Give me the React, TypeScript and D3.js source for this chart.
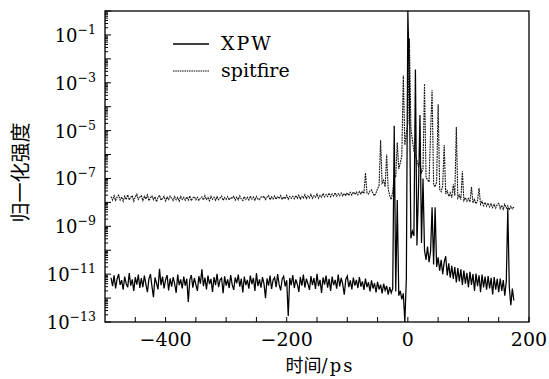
import React, { useEffect, useRef } from "react";
import * as d3 from "d3";

// sampling grid of both traces (ps)
const tStart = -490;
const tStep = 2.5;

// log10 of the normalized intensity, one value per sample
const spitfireLog10 = [
  -7.76, -7.9, -7.72, -7.92, -7.78, -7.7, -7.9, -7.77, -7.95, -7.74, -7.88, -7.68, -7.9, -7.79, -7.72, -7.95, -7.77, -7.66, -7.88, -7.78,
  -7.72, -7.92, -7.75, -7.86, -7.69, -7.93, -7.8, -7.73, -7.89, -7.76, -7.97, -7.79, -7.7, -7.91, -7.83, -7.75, -7.94, -7.78, -7.88, -7.74,
  -7.82, -7.92, -7.76, -7.89, -7.79, -7.95, -7.75, -7.88, -7.8, -7.91, -7.77, -7.9, -7.73, -7.93, -7.81, -7.76, -7.89, -7.79, -7.92, -7.82,
  -7.77, -7.9, -7.72, -7.88, -7.8, -7.93, -7.75, -7.87, -7.79, -7.91, -7.76, -7.89, -7.81, -7.74, -7.92, -7.8, -7.88, -7.76, -7.9, -7.79,
  -7.83, -7.75, -7.91, -7.78, -7.89, -7.73, -7.86, -7.92, -7.76, -7.88, -7.79, -7.9, -7.74, -7.87, -7.78, -7.91, -7.75, -7.86, -7.89, -7.77,
  -7.8, -7.74, -7.88, -7.78, -7.71, -7.89, -7.77, -7.86, -7.73, -7.87, -7.76, -7.84, -7.72, -7.88, -7.77, -7.85, -7.7, -7.87, -7.75, -7.83,
  -7.74, -7.85, -7.71, -7.83, -7.7, -7.86, -7.75, -7.82, -7.68, -7.84, -7.73, -7.81, -7.67, -7.83, -7.72, -7.79, -7.65, -7.82, -7.7, -7.78,
  -7.63, -7.77, -7.67, -7.75, -7.61, -7.76, -7.65, -7.73, -7.6, -7.74, -7.64, -7.72, -7.61, -7.73, -7.63, -7.71,
  -7.6, -7.71, -7.58, -7.69, -7.56, -7.67, -7.57, -7.68, -7.55, -7.65, -7.53, -7.63, -6.77, -7.61, -7.65, -7.53,
  -7.48, -7.63, -7.72, -7.6, -7.43, -7.3, -5.4, -7.2, -7.08, -7.35, -6.0, -7.42, -7.72, -7.88, -7.55, -6.9,
  -6.95, -5.5, -6.6, -6.35, -6.05, -2.7, -5.6, -5.1, -4.7, -1.15, -4.9, -5.4, -5.85, -6.0, -6.25, -6.5,
  -6.3, -6.75, -6.6, -3.05, -6.95, -7.05, -7.15, -5.05, -3.3, -7.25, -7.35, -7.15, -3.9, -7.45, -7.55, -7.3,
  -5.6, -7.65, -7.52, -7.75, -7.6, -7.8, -7.25, -7.72, -4.85, -7.82, -7.7, -7.88, -6.7, -7.92, -7.8, -7.95,
  -7.84, -7.98, -7.36, -8.02, -7.88, -8.06, -7.93, -7.4, -8.08, -7.96, -8.14, -8.0, -8.16, -8.03, -8.19, -8.06,
  -8.22, -8.08, -8.24, -8.1, -8.04, -8.26, -8.12, -8.29, -8.08, -8.24, -8.14, -8.31, -8.16, -8.27, -8.2
];

const xpwLog10 = [
  -11.15, -11.5, -11.05, -11.6, -11.2, -11.0, -11.45, -11.25, -11.65, -11.1, -11.4, -11.55, -10.95, -11.48, -11.22, -11.7, -11.12, -11.44, -11.02, -11.58,
  -11.16, -11.54, -11.06, -11.42, -11.75, -11.2, -11.0, -11.5, -11.96, -11.14, -11.38, -11.64, -10.78, -11.46, -11.1, -11.6, -11.24, -11.04, -11.68, -11.18,
  -11.52, -11.12, -11.41, -11.78, -11.02, -11.46, -11.22, -11.6, -11.1, -11.48, -11.19, -12.16, -11.24, -11.04, -11.56, -11.16, -11.44, -11.7, -11.08, -11.4,
  -10.8, -11.5, -11.14, -11.64, -11.06, -11.42, -11.2, -11.74, -11.12, -11.46, -10.99, -11.54, -11.24, -11.16, -11.8, -11.09, -11.48, -11.22, -11.58, -11.04,
  -11.44, -11.66, -11.14, -11.38, -11.02, -11.52, -11.19, -11.76, -11.1, -11.46, -11.24, -11.61, -11.06, -11.42, -11.16, -11.7, -10.96, -11.5, -11.22, -11.56,
  -11.12, -11.41, -12.0, -11.18, -11.48, -11.06, -11.62, -11.24, -11.14, -11.54, -11.0, -11.44, -11.68, -11.2, -11.09, -11.51, -11.26, -12.75, -11.16, -11.46,
  -11.04, -11.58, -11.22, -11.42, -11.74, -11.12, -11.48, -11.02, -11.56, -11.19, -11.4, -11.66, -11.08, -11.46, -11.16, -11.62, -10.99, -11.5, -11.24, -11.78,
  -11.14, -11.44, -11.06, -11.56, -11.2, -11.7, -11.1, -11.46, -11.24, -11.61, -11.02, -11.51, -11.16, -11.42, -11.86, -11.22, -11.08, -11.54, -11.26, -11.64,
  -11.14, -11.48, -11.24, -11.58, -11.12, -11.52, -11.3, -11.66, -11.19, -11.54, -11.34, -11.72, -11.26, -11.6, -11.38, -11.76, -11.32, -11.64, -11.44, -11.8,
  -11.4, -11.68, -11.49, -11.86, -11.54, -11.78,
  -11.6, -4.8, -11.72, -7.9, -11.9, -11.7, -12.05, -11.8, -13.0, -11.2, 0, -3.0, -9.5, -9.2, -9.4, -2.45,
  -9.8, -7.5, -4.35, -9.7, -7.0, -10.0, -10.4, -9.85, -10.5, -10.05, -8.2, -10.6, -8.2, -10.7, -10.3, -10.85,
  -10.4, -11.0, -10.5, -10.25, -11.05, -10.55, -11.15, -10.65, -11.2, -10.7, -11.35, -10.75, -11.3, -10.8, -11.45, -10.85,
  -11.4, -10.95, -11.55, -10.9, -11.45, -11.0, -11.7, -10.98, -11.5, -11.05, -11.75, -11.02, -11.55, -11.1, -11.65, -11.08,
  -11.6, -11.15, -11.85, -11.12, -11.65, -11.2, -11.75, -11.18, -11.7, -11.25, -11.9, -11.3, -8.24, -11.55, -12.3, -11.6, -12.1
];

const xMajorTicks = [-400, -200, 0, 200];
const xMinorTicks = [-450, -350, -300, -250, -150, -100, -50, 50, 100, 150];
const yLabelExps = [-1, -3, -5, -7, -9, -11, -13];
const legendNames = ["XPW", "spitfire"];

const W = 549, H = 379;
const serif = "'DejaVu Serif', 'Liberation Serif', serif";
const cjk = "'Noto Sans CJK SC', sans-serif";

export default function App() {
  const ref = useRef<SVGSVGElement>(null);

  useEffect(() => {
    const svg = d3.select(ref.current);
    svg.selectAll("*").remove();

    const left = 105, right = 529, top = 11, bottom = 322;

    const x = d3.scaleLinear().domain([-500, 200]).range([left, right]);
    const y = d3.scaleLog().domain([1e-13, 1]).range([bottom, top]).clamp(true);

    svg.append("clipPath").attr("id", "plotclip")
      .append("rect")
      .attr("x", left).attr("y", top)
      .attr("width", right - left).attr("height", bottom - top);

    const line = d3.line<number>()
      .x((d, i) => x(tStart + i * tStep))
      .y(d => y(Math.pow(10, d)));

    const g = svg.append("g").attr("clip-path", "url(#plotclip)");

    // spitfire (dotted)
    g.append("path")
      .attr("d", line(spitfireLog10))
      .attr("fill", "none")
      .attr("stroke", "#111")
      .attr("stroke-width", 1.1)
      .attr("stroke-dasharray", "1.8,0.8");

    // XPW (solid)
    g.append("path")
      .attr("d", line(xpwLog10))
      .attr("fill", "none")
      .attr("stroke", "#000")
      .attr("stroke-width", 1.25);

    // frame
    svg.append("rect")
      .attr("x", left).attr("y", top)
      .attr("width", right - left).attr("height", bottom - top)
      .attr("fill", "none").attr("stroke", "#000").attr("stroke-width", 1.3);

    // y ticks (inward)
    const yt = svg.append("g").attr("stroke", "#000").attr("stroke-width", 1);
    for (let e = -13; e <= 0; e++) {
      const yy = y(Math.pow(10, e));
      yt.append("line").attr("x1", left).attr("x2", left + 6).attr("y1", yy).attr("y2", yy);
      if (e < 0) {
        for (let k = 2; k <= 9; k++) {
          const ym = y(k * Math.pow(10, e));
          yt.append("line").attr("x1", left).attr("x2", left + 3).attr("y1", ym).attr("y2", ym);
        }
      }
    }

    yLabelExps.forEach(e => {
      const t = svg.append("text")
        .attr("x", 96)
        .attr("y", y(Math.pow(10, e)) + 7)
        .attr("text-anchor", "end")
        .style("font-family", serif)
        .style("font-size", "18px");
      t.append("tspan").text("10");
      t.append("tspan")
        .attr("dy", -8)
        .style("font-size", "12.5px")
        .text("\u2212" + Math.abs(e));
    });

    // x ticks (inward)
    const xt = svg.append("g").attr("stroke", "#000").attr("stroke-width", 1);
    [...xMajorTicks, ...xMinorTicks].forEach(v => {
      xt.append("line").attr("x1", x(v)).attr("x2", x(v)).attr("y1", bottom).attr("y2", bottom - 5);
    });

    xMajorTicks.forEach(v => {
      svg.append("text")
        .attr("x", x(v))
        .attr("y", 346)
        .attr("text-anchor", "middle")
        .style("font-family", serif)
        .style("font-size", "19px")
        .text(v < 0 ? "\u2212" + Math.abs(v) : String(v));
    });

    // axis titles
    const xTitle = svg.append("text")
      .attr("x", (left + right) / 2 + 3)
      .attr("y", 372)
      .attr("text-anchor", "middle");
    xTitle.append("tspan").style("font-family", cjk).style("font-size", "18px").text("时间");
    xTitle.append("tspan").style("font-family", serif).style("font-size", "18px").style("letter-spacing", "2px").text("/ps");

    svg.append("text")
      .attr("transform", `translate(19,${(top + bottom) / 2 + 6}) rotate(-90)`)
      .attr("text-anchor", "middle")
      .attr("dominant-baseline", "central")
      .style("font-family", cjk)
      .style("font-size", "20px")
      .text("归一化强度");

    // legend
    legendNames.forEach((name, i) => {
      const ly = 44 + i * 27;
      svg.append("line")
        .attr("x1", 173).attr("x2", 209)
        .attr("y1", ly).attr("y2", ly)
        .attr("stroke", "#000")
        .attr("stroke-width", i === 0 ? 1.3 : 1)
        .attr("stroke-dasharray", i === 0 ? null : "1.5,0.8");
      svg.append("text")
        .attr("x", 221)
        .attr("y", ly + 6)
        .style("font-family", serif)
        .style("font-size", "19px")
        .style("letter-spacing", i === 0 ? "2px" : "0px")
        .text(name);
    });
  }, []);

  return (
    <svg
      ref={ref}
      width={W}
      height={H}
      style={{ position: "absolute", left: 0, top: 0, background: "#fff" }}
    />
  );
}
